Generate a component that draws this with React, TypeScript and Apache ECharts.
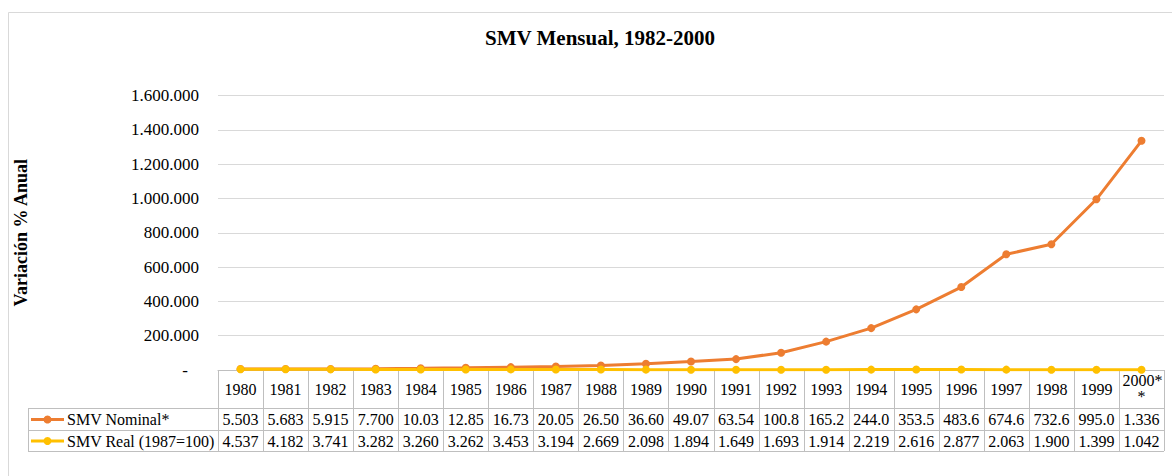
import React, { useEffect, useRef } from 'react';
import * as echarts from 'echarts';

const title = 'SMV Mensual, 1982-2000';
const yAxisTitle = 'Variación % Anual';
const years = ['1980', '1981', '1982', '1983', '1984', '1985', '1986', '1987', '1988', '1989', '1990', '1991', '1992', '1993', '1994', '1995', '1996', '1997', '1998', '1999', '2000**'];
const nominalName = 'SMV Nominal*';
const realName = 'SMV Real (1987=100)';
const nominal = [5503, 5683, 5915, 7700, 10030, 12850, 16730, 20050, 26500, 36600, 49070, 63540, 100800, 165200, 244000, 353500, 483600, 674600, 732600, 995000, 1336000];
const real = [4537, 4182, 3741, 3282, 3260, 3262, 3453, 3194, 2669, 2098, 1894, 1649, 1693, 1914, 2219, 2616, 2877, 2063, 1900, 1399, 1042];
const yMin = 0;
const yMax = 1600000;
const yInterval = 200000;

const W = 1172;
const H = 476;
const FONT = '"Liberation Serif", "Times New Roman", serif';
const ORANGE = '#ED7D31';
const GOLD = '#FFC000';
const BORDER = '#bfbfbf';

const fmt = (v: number) => String(Math.round(v)).replace(/\B(?=(\d{3})+(?!\d))/g, '.');
const cell = (v: number) => fmt(v).slice(0, 5);

export default function App() {
  const ref = useRef<HTMLDivElement>(null);
  useEffect(() => {
    document.body.style.margin = '0';
    const chart = echarts.init(ref.current!, null, { renderer: 'svg' });
    const gridLeft = 218;
    const gridRight = 8;
    const gridTop = 95.5;
    const zeroY = 370;
    const plotW = W - gridLeft - gridRight;
    const colW = plotW / years.length;
    const tableLeft = 28;
    const rowH = 408;
    const rowN = 430;
    const rowEnd = 451;
    const right = gridLeft + plotW;

    const g: any[] = [];
    g.push({ type: 'rect', shape: { x: 8.5, y: 12.5, width: W + 20, height: H + 20 }, style: { fill: 'none', stroke: '#d9d9d9', lineWidth: 1 }, silent: true });
    [rowH, rowN, rowEnd].forEach((y) => {
      g.push({ type: 'line', shape: { x1: tableLeft, y1: y + 0.5, x2: right, y2: y + 0.5 }, style: { stroke: BORDER, lineWidth: 1 } });
    });
    g.push({ type: 'line', shape: { x1: tableLeft + 0.5, y1: rowH, x2: tableLeft + 0.5, y2: rowEnd }, style: { stroke: BORDER, lineWidth: 1 } });
    for (let k = 0; k <= years.length; k++) {
      const x = Math.round(gridLeft + colW * k) + 0.5;
      g.push({ type: 'line', shape: { x1: x, y1: zeroY, x2: x, y2: rowEnd }, style: { stroke: BORDER, lineWidth: 1 } });
    }
    years.forEach((yr, i) => {
      const cx = gridLeft + colW * (i + 0.5);
      if (yr.length > 5) {
        g.push({ type: 'text', x: cx + 1, y: 380, style: { text: yr.slice(0, 5), font: `16px ${FONT}`, fill: '#000', align: 'center', verticalAlign: 'middle' } });
        g.push({ type: 'text', x: cx, y: 396, style: { text: yr.slice(5), font: `16px ${FONT}`, fill: '#000', align: 'center', verticalAlign: 'middle' } });
      } else {
        g.push({ type: 'text', x: cx, y: 389.5, style: { text: yr, font: `16px ${FONT}`, fill: '#000', align: 'center', verticalAlign: 'middle' } });
      }
      g.push({ type: 'text', x: cx, y: 419.5, style: { text: cell(nominal[i]), font: `16px ${FONT}`, fill: '#000', align: 'center', verticalAlign: 'middle' } });
      g.push({ type: 'text', x: cx, y: 441, style: { text: cell(real[i]), font: `16px ${FONT}`, fill: '#000', align: 'center', verticalAlign: 'middle' } });
    });
    [[nominalName, ORANGE, 419.5], [realName, GOLD, 441]].forEach(([name, color, y]: any) => {
      g.push({ type: 'line', shape: { x1: 31, y1: y, x2: 64, y2: y }, style: { stroke: color, lineWidth: 3 } });
      g.push({ type: 'circle', shape: { cx: 47.5, cy: y, r: 4 }, style: { fill: color } });
      g.push({ type: 'text', x: 67, y, style: { text: name, font: `16px ${FONT}`, fill: '#000', align: 'left', verticalAlign: 'middle' } });
    });

    chart.setOption({
      animation: false,
      backgroundColor: '#fff',
      title: {
        text: title,
        left: 480,
        top: 22,
        textStyle: { fontFamily: FONT, fontWeight: 'bold', fontSize: 21, color: '#000' },
      },
      grid: { left: gridLeft, right: gridRight, top: gridTop, bottom: H - zeroY, containLabel: false },
      xAxis: {
        type: 'category',
        data: years,
        boundaryGap: true,
        axisLabel: { show: false },
        axisTick: { show: false },
        axisLine: { show: true, lineStyle: { color: BORDER, width: 1 } },
      },
      yAxis: {
        type: 'value',
        min: yMin,
        max: yMax,
        interval: yInterval,
        name: yAxisTitle,
        nameLocation: 'middle',
        nameRotate: 90,
        nameGap: 188,
        nameTextStyle: { fontFamily: FONT, fontWeight: 'bold', fontSize: 18, color: '#000' },
        axisLine: { show: false },
        axisTick: { show: false },
        splitLine: { lineStyle: { color: '#d9d9d9', width: 1 } },
        axisLabel: {
          margin: 19,
          fontFamily: FONT,
          fontSize: 17,
          color: '#000',
          formatter: (v: number) => (v === 0 ? '{z|-}' : fmt(v)),
          rich: { z: { fontFamily: FONT, fontSize: 17, color: '#000', padding: [0, 11, 0, 0] } },
        },
      },
      series: [
        {
          name: nominalName,
          type: 'line',
          data: nominal,
          symbol: 'circle',
          symbolSize: 8,
          itemStyle: { color: ORANGE },
          lineStyle: { color: ORANGE, width: 3 },
        },
        {
          name: realName,
          type: 'line',
          data: real,
          symbol: 'circle',
          symbolSize: 8,
          itemStyle: { color: GOLD },
          lineStyle: { color: GOLD, width: 3 },
        },
      ],
      graphic: g,
    });
    return () => chart.dispose();
  }, []);
  return <div ref={ref} style={{ width: W, height: H }} />;
}
